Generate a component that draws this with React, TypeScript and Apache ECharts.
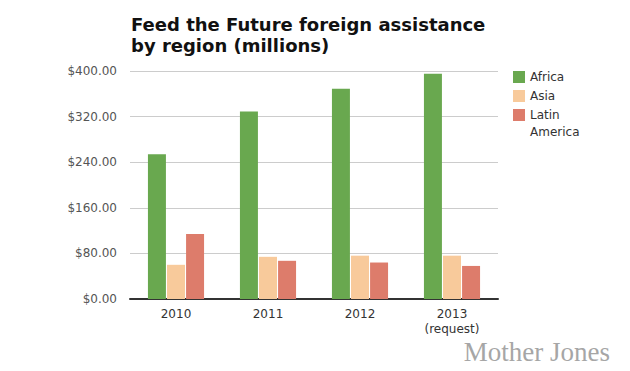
import React, { useEffect, useRef } from "react";
import * as echarts from "echarts";

const categories = ["2010", "2011", "2012", "2013 (request)"];
const africa = [254, 329, 369, 395];
const asia = [60, 74, 76, 76];
const latinAmerica = [114, 67, 64, 58];
const yTicks = [0, 80, 160, 240, 320, 400];

export default function App() {
  const ref = useRef<HTMLDivElement>(null);
  useEffect(() => {
    if (!ref.current) return;
    const chart = echarts.init(ref.current, null, { renderer: "svg" });
    const labelFont = "'DejaVu Sans', Verdana, sans-serif";
    chart.setOption({
      animation: false,
      backgroundColor: "#ffffff",
      title: {
        text: "Feed the Future foreign assistance\nby region (millions)",
        left: 126,
        top: 9,
        textStyle: {
          fontFamily: labelFont,
          fontWeight: "bold",
          fontSize: 18,
          lineHeight: 21,
          color: "#111111",
        },
      },
      legend: {
        orient: "vertical",
        left: 513,
        top: 68.5,
        padding: 0,
        itemWidth: 12,
        itemHeight: 12,
        itemGap: 2,
        icon: "rect",
        formatter: (n: string) => (n === "Latin America" ? "Latin" : n),
        textStyle: {
          fontFamily: labelFont,
          fontSize: 12,
          color: "#333333",
          lineHeight: 17,
        },
      },
      grid: { left: 130, right: 132, top: 71, bottom: 72, containLabel: false },
      xAxis: {
        type: "category",
        data: categories,
        axisLine: { lineStyle: { color: "#333333", width: 2 } },
        axisTick: { show: false },
        axisLabel: {
          fontFamily: labelFont,
          fontSize: 12,
          color: "#333333",
          margin: 7,
          lineHeight: 15,
          formatter: (v: string) => v.replace(" ", "\n"),
        },
      },
      yAxis: {
        type: "value",
        min: yTicks[0],
        max: yTicks[yTicks.length - 1],
        interval: 80,
        axisLine: { show: false },
        axisTick: { show: false },
        splitLine: { lineStyle: { color: "#cccccc", width: 1 } },
        axisLabel: {
          fontFamily: labelFont,
          fontSize: 12,
          color: "#555555",
          margin: 13,
          formatter: (v: number) => "$" + v.toFixed(2),
        },
      },
      series: [
        { name: "Africa", type: "bar", data: africa, itemStyle: { color: "#69a84f" }, barGap: "6%", barCategoryGap: "39%" },
        { name: "Asia", type: "bar", data: asia, itemStyle: { color: "#f8ca9b" } },
        { name: "Latin America", type: "bar", data: latinAmerica, itemStyle: { color: "#dd7c6b" } },
      ],
      graphic: [
        {
          type: "text",
          x: 530,
          y: 132,
          style: {
            text: "America",
            font: "12px 'DejaVu Sans', Verdana, sans-serif",
            fill: "#333333",
            verticalAlign: "middle",
          },
        },
        {
          type: "text",
          right: 20,
          top: 338,
          style: {
            text: "Mother Jones",
            font: "27px 'Liberation Serif', 'Times New Roman', serif",
            fill: "#a6a6a6",
          },
        },
      ],
    });
    return () => chart.dispose();
  }, []);
  return (
    <div
      ref={ref}
      style={{ position: "absolute", left: 0, top: 0, width: 630, height: 371 }}
    />
  );
}
